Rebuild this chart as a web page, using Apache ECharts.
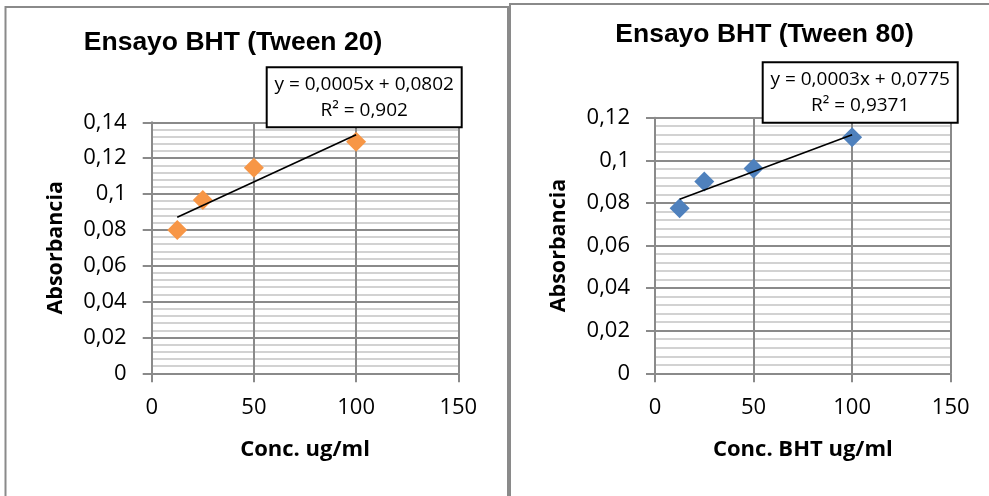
<!DOCTYPE html>
<html><head><meta charset="utf-8">
<script src="https://cdn.jsdelivr.net/npm/echarts@6/dist/echarts.min.js"></script>
<style>html,body{margin:0;padding:0;background:#fff}#c{width:989px;height:496px}</style>
</head><body><div id="c"></div>
<script>
// Data
const concX = [12.5, 25, 50, 100];
const tween20Abs = [0.0799, 0.0967, 0.1147, 0.1292];
const tween80Abs = [0.0775, 0.0900, 0.0962, 0.1108];
const titles = ['Ensayo BHT (Tween 20)', 'Ensayo BHT (Tween 80)'];
const xNames = ['Conc. ug/ml', 'Conc. BHT ug/ml'];
const yName = 'Absorbancia';
const eq20 = ['y = 0,0005x + 0,0802', 'R² = 0,902'];
const eq80 = ['y = 0,0003x + 0,0775', 'R² = 0,9371'];
const yMax = [0.14, 0.12];

function regression(xs, ys) {
  const n = xs.length;
  const mx = xs.reduce((a, b) => a + b, 0) / n;
  const my = ys.reduce((a, b) => a + b, 0) / n;
  let sxy = 0, sxx = 0;
  for (let i = 0; i < n; i++) { sxy += (xs[i] - mx) * (ys[i] - my); sxx += (xs[i] - mx) ** 2; }
  const b = sxy / sxx, a = my - b * mx;
  const x0 = Math.min(...xs), x1 = Math.max(...xs);
  return [[x0, a + b * x0], [x1, a + b * x1]];
}

const F = 'Open Sans';
const gridCol = '#8a8a8a', minorCol = '#c4c4c4';
const chart = echarts.init(document.getElementById('c'));

function xAxis(i) {
  return {
    gridIndex: i, type: 'value', min: 0, max: 150, interval: 50,
    name: xNames[i], nameLocation: 'middle', nameGap: 65,
    nameTextStyle: { fontFamily: F, fontSize: 22, fontWeight: 'bold', color: '#000' },
    axisLine: { show: true, onZero: false, lineStyle: { color: gridCol, width: 2 } },
    axisTick: { show: true, inside: false, length: 9, lineStyle: { color: gridCol, width: 2 } },
    axisLabel: { fontFamily: F, fontSize: 22, color: '#000', margin: 23 },
    splitLine: { show: true, lineStyle: { color: gridCol, width: 2 } }
  };
}
function yAxis(i) {
  return {
    gridIndex: i, type: 'value', min: 0, max: yMax[i], interval: 0.02,
    name: yName, nameLocation: 'middle', nameGap: 85,
    nameTextStyle: { fontFamily: F, fontSize: 21.5, fontWeight: 'bold', color: '#000' },
    axisLine: { show: true, lineStyle: { color: gridCol, width: 2 } },
    axisTick: { show: true, inside: false, length: 9, lineStyle: { color: gridCol, width: 2 } },
    axisLabel: { fontFamily: F, fontSize: 22, color: '#000', margin: 25,
      formatter: v => String(+v.toFixed(4)).replace('.', ',') },
    splitLine: { show: true, lineStyle: { color: gridCol, width: 2 } },
    minorTick: { show: false, splitNumber: 5 },
    minorSplitLine: { show: true, lineStyle: { color: minorCol, width: 1.5 } }
  };
}

function eqBox(x, y, w, h, lines) {
  return [
    { type: 'rect', z: 100, shape: { x: x, y: y, width: w, height: h },
      style: { fill: '#fff', stroke: '#000', lineWidth: 2 } },
    { type: 'text', z: 101, x: x + w / 2, y: y + h / 2,
      style: { text: lines.join('\n'), font: '19px "' + F + '"', fill: '#000',
        textAlign: 'center', textVerticalAlign: 'middle', lineHeight: 26 } }
  ];
}

const option = {
  animation: false,
  grid: [
    { left: 151.7, top: 122.3, width: 306.6, height: 251 },
    { left: 655, top: 117.7, width: 295.7, height: 255.6 }
  ],
  xAxis: [xAxis(0), xAxis(1)],
  yAxis: [yAxis(0), yAxis(1)],
  series: [
    { type: 'scatter', xAxisIndex: 0, yAxisIndex: 0, symbol: 'diamond', symbolSize: 20,
      itemStyle: { color: '#F79646', opacity: 1 }, data: concX.map((x, i) => [x, tween20Abs[i]]), z: 3 },
    { type: 'line', xAxisIndex: 0, yAxisIndex: 0, showSymbol: false, symbol: 'none',
      lineStyle: { color: '#000', width: 1.6 }, data: regression(concX, tween20Abs), z: 4 },
    { type: 'scatter', xAxisIndex: 1, yAxisIndex: 1, symbol: 'diamond', symbolSize: 20,
      itemStyle: { color: '#4F81BD', opacity: 1 }, data: concX.map((x, i) => [x, tween80Abs[i]]), z: 3 },
    { type: 'line', xAxisIndex: 1, yAxisIndex: 1, showSymbol: false, symbol: 'none',
      lineStyle: { color: '#000', width: 1.6 }, data: regression(concX, tween80Abs), z: 4 }
  ],
  graphic: [
    { type: 'polyline', z: 100, shape: { points: [[5.5, 496], [5.5, 7], [508, 7], [508, 496]] },
      style: { stroke: '#8a8a8a', lineWidth: 2, fill: null } },
    { type: 'polyline', z: 100, shape: { points: [[510, 496], [510, 4], [989, 4]] },
      style: { stroke: '#8a8a8a', lineWidth: 2, fill: null } },
    { type: 'text', z: 100, x: 233, y: 43,
      style: { text: titles[0], font: 'bold 26.5px "Liberation Sans"', fill: '#000', textAlign: 'center', textVerticalAlign: 'middle' } },
    { type: 'text', z: 100, x: 764.5, y: 35,
      style: { text: titles[1], font: 'bold 26.5px "Liberation Sans"', fill: '#000', textAlign: 'center', textVerticalAlign: 'middle' } },
    ...eqBox(266.7, 67.3, 195, 60, eq20),
    ...eqBox(762.7, 62.3, 195, 60.4, eq80)
  ]
};
chart.setOption(option);
</script></body></html>
